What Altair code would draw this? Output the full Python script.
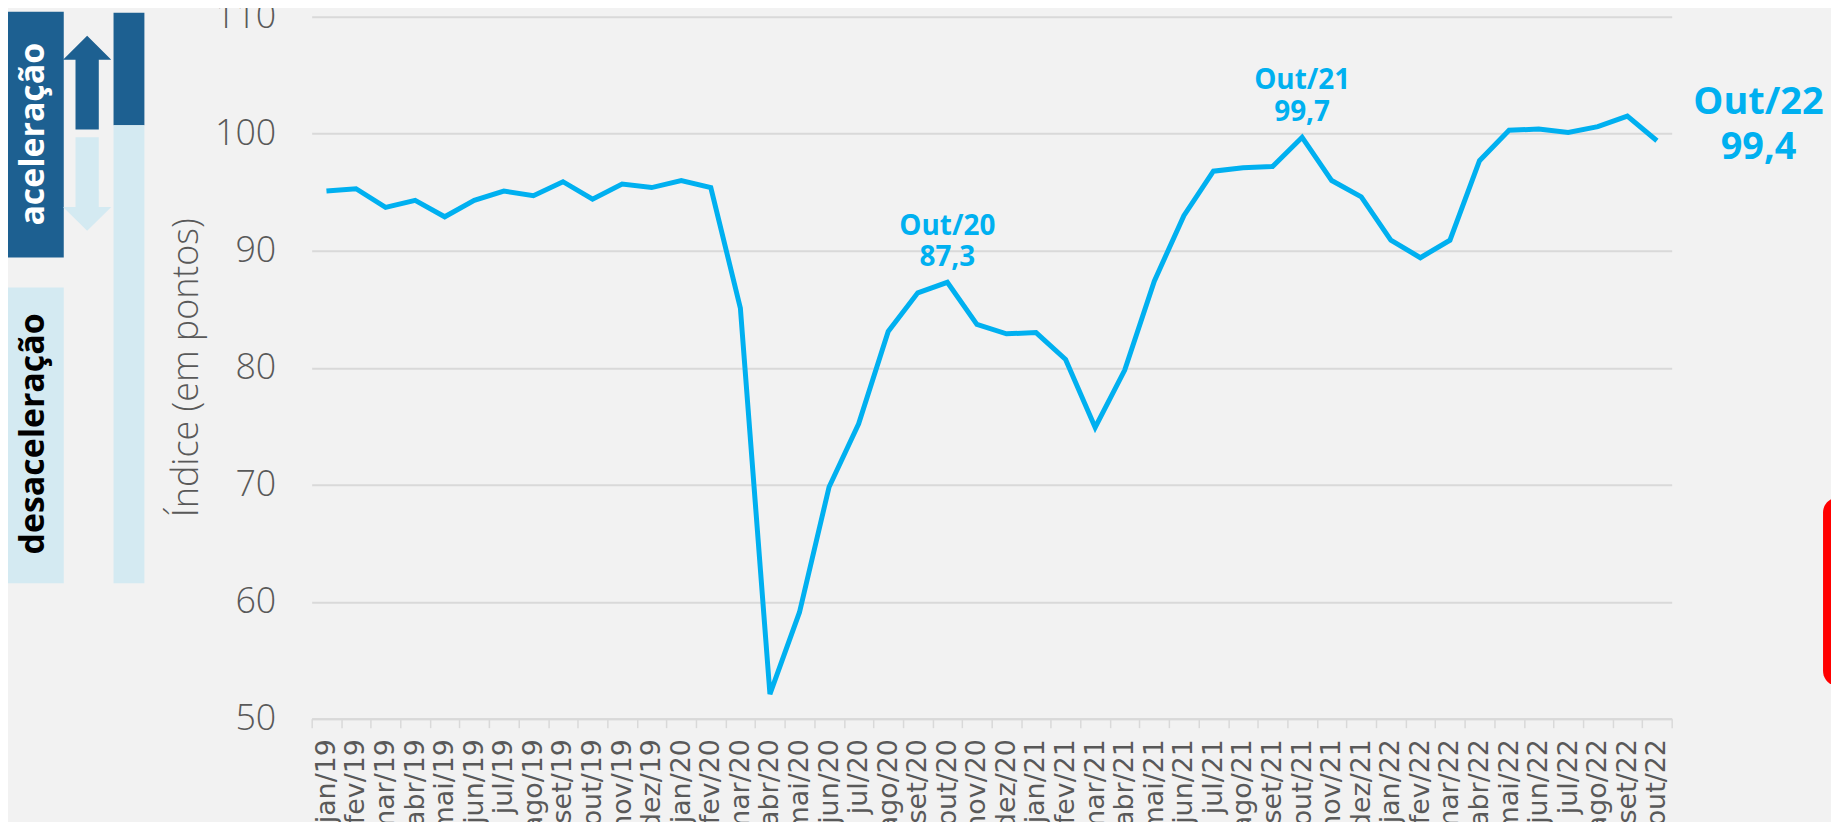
import altair as alt
import pandas as pd

# ---------------- data ----------------
months = [
    "jan/19", "fev/19", "mar/19", "abr/19", "mai/19", "jun/19", "jul/19", "ago/19", "set/19", "out/19", "nov/19", "dez/19",
    "jan/20", "fev/20", "mar/20", "abr/20", "mai/20", "jun/20", "jul/20", "ago/20", "set/20", "out/20", "nov/20", "dez/20",
    "jan/21", "fev/21", "mar/21", "abr/21", "mai/21", "jun/21", "jul/21", "ago/21", "set/21", "out/21", "nov/21", "dez/21",
    "jan/22", "fev/22", "mar/22", "abr/22", "mai/22", "jun/22", "jul/22", "ago/22", "set/22", "out/22",
]
values = [
    95.1, 95.3, 93.7, 94.3, 92.9, 94.3, 95.1, 94.7, 95.9, 94.4, 95.7, 95.4,
    96.0, 95.4, 85.1, 52.1, 59.1, 69.8, 75.2, 83.1, 86.4, 87.3, 83.7, 82.9,
    83.0, 80.7, 74.9, 79.8, 87.4, 93.0, 96.8, 97.1, 97.2, 99.7, 96.0, 94.6,
    90.9, 89.4, 90.9, 97.7, 100.3, 100.4, 100.1, 100.6, 101.5, 99.4,
]
y_ticks = [50, 60, 70, 80, 90, 100, 110]

ann_small_month = ["out/20", "out/21"]
ann_small_title = ["Out/20", "Out/21"]
ann_small_value = [87.3, 99.7]
ann_small_text = ["87,3", "99,7"]

ann_big_month = ["out/22"]
ann_big_title = ["Out/22"]
ann_big_value = [99.4]
ann_big_text = ["99,4"]

side_labels = ["aceleração", "desaceleração"]
y_title = "Índice (em pontos)"

# ---------------- style ----------------
W, H = 1366, 705
BG = "#f2f2f2"
LINE = "#00b0f0"
DARK = "#1d6091"
LIGHT = "#d4eaf2"
GRID = "#d9d9d9"
TXT = "#595959"
FONT = "Open Sans"

x_enc = alt.X(
    "mes:O",
    sort=months,
    bandPosition=0.5,
    scale=alt.Scale(type="band", domain=months, paddingInner=0, paddingOuter=0),
    axis=alt.Axis(
        title=None,
        labelAngle=-90,
        labelFont="DejaVu Sans",
        labelFontSize=27,
        labelColor=TXT,
        labelPadding=11,
        labelOverlap=False,
        tickBand="extent",
        ticks=True,
        tickSize=9,
        tickColor=GRID,
        tickWidth=1.5,
        domainColor=GRID,
        domainWidth=2,
        grid=False,
    ),
)
y_enc = alt.Y(
    "indice:Q",
    scale=alt.Scale(domain=[50, 110], nice=False, zero=False),
    axis=alt.Axis(
        values=y_ticks,
        title=y_title,
        titleFont=FONT,
        titleFontWeight=300,
        titleFontSize=36,
        titleColor=TXT,
        titleAngle=270,
        titleBaseline="middle",
        titleAlign="center",
        titleX=-126,
        titleY=352,
        labelFont=FONT,
        labelFontWeight=300,
        labelFontSize=36,
        labelColor=TXT,
        labelPadding=36,
        ticks=False,
        tickSize=0,
        domain=False,
        grid=True,
        gridColor=GRID,
        gridWidth=2,
    ),
)

df = pd.DataFrame({"mes": months, "indice": values})
line = alt.Chart(df).mark_line(color=LINE, strokeWidth=5).encode(x=x_enc, y=y_enc)

small_df = pd.DataFrame({"mes": ann_small_month, "indice": ann_small_value,
                         "titulo": ann_small_title, "valor": ann_small_text})
small_t = alt.Chart(small_df).mark_text(font=FONT, fontWeight="bold", fontSize=28, color=LINE,
                                        align="center", baseline="middle", dy=-56).encode(
    x=x_enc, y=y_enc, text="titulo:N")
small_v = alt.Chart(small_df).mark_text(font=FONT, fontWeight="bold", fontSize=28, color=LINE,
                                        align="center", baseline="middle", dy=-24).encode(
    x=x_enc, y=y_enc, text="valor:N")

big_df = pd.DataFrame({"mes": ann_big_month, "indice": ann_big_value,
                       "titulo": ann_big_title, "valor": ann_big_text})
big_t = alt.Chart(big_df).mark_text(font=FONT, fontWeight="bold", fontSize=38, color=LINE,
                                    align="center", baseline="middle", dx=102, dy=-38).encode(
    x=x_enc, y=y_enc, text="titulo:N")
big_v = alt.Chart(big_df).mark_text(font=FONT, fontWeight="bold", fontSize=38, color=LINE,
                                    align="center", baseline="middle", dx=102, dy=7).encode(
    x=x_enc, y=y_enc, text="valor:N")

one = pd.DataFrame({"k": [0]})


def box(x1, x2, y1, y2, color, radius=0):
    return alt.Chart(one).mark_rect(color=color, cornerRadius=radius).encode(
        x=alt.value(x1), x2=alt.value(x2), y=alt.value(y1), y2=alt.value(y2))


up_path = "M -1 0 L 0 -1.0 L 1 0 L 0.483 0 L 0.483 2.89 L -0.483 2.89 L -0.483 0 Z"
down_path = "M -0.483 -2.89 L 0.483 -2.89 L 0.483 0 L 1 0 L 0 0.99 L -1 0 L -0.483 0 Z"

up_arrow = alt.Chart(one).mark_point(shape=up_path, size=2343, filled=True, fill=DARK,
                                     opacity=1, strokeWidth=0).encode(
    x=alt.value(-225.5), y=alt.value(43.3))
down_arrow = alt.Chart(one).mark_point(shape=down_path, size=2343, filled=True, fill=LIGHT,
                                       opacity=1, strokeWidth=0).encode(
    x=alt.value(-225.5), y=alt.value(191))

acc_text = alt.Chart(one).mark_text(font=FONT, fontWeight="bold", fontSize=34, color="white",
                                    angle=270, align="center", baseline="middle").encode(
    x=alt.value(-279), y=alt.value(118), text=alt.value(side_labels[0]))
dec_text = alt.Chart(one).mark_text(font=FONT, fontWeight="bold", fontSize=34, color="black",
                                    angle=270, align="center", baseline="middle").encode(
    x=alt.value(-279), y=alt.value(419), text=alt.value(side_labels[1]))

chart = alt.layer(
    box(-308, -249, -5, 241.7, DARK),
    box(-308, -249, 272, 569, LIGHT),
    box(-199, -168, -4, 109, DARK),
    box(-199, -168, 109, 569, LIGHT),
    up_arrow,
    down_arrow,
    acc_text,
    dec_text,
    box(1518, 1570, 483, 672, "#ff0000", radius=15),
    line,
    small_t, small_v, big_t, big_v,
).properties(
    width=W,
    height=H,
    background=BG,
    padding={"left": 305, "top": 7, "right": 160, "bottom": 102},
    autosize=alt.AutoSizeParams(type="none"),
).configure_view(strokeWidth=0)

chart.save("out.html", embed_options={"renderer": "svg", "actions": False})
